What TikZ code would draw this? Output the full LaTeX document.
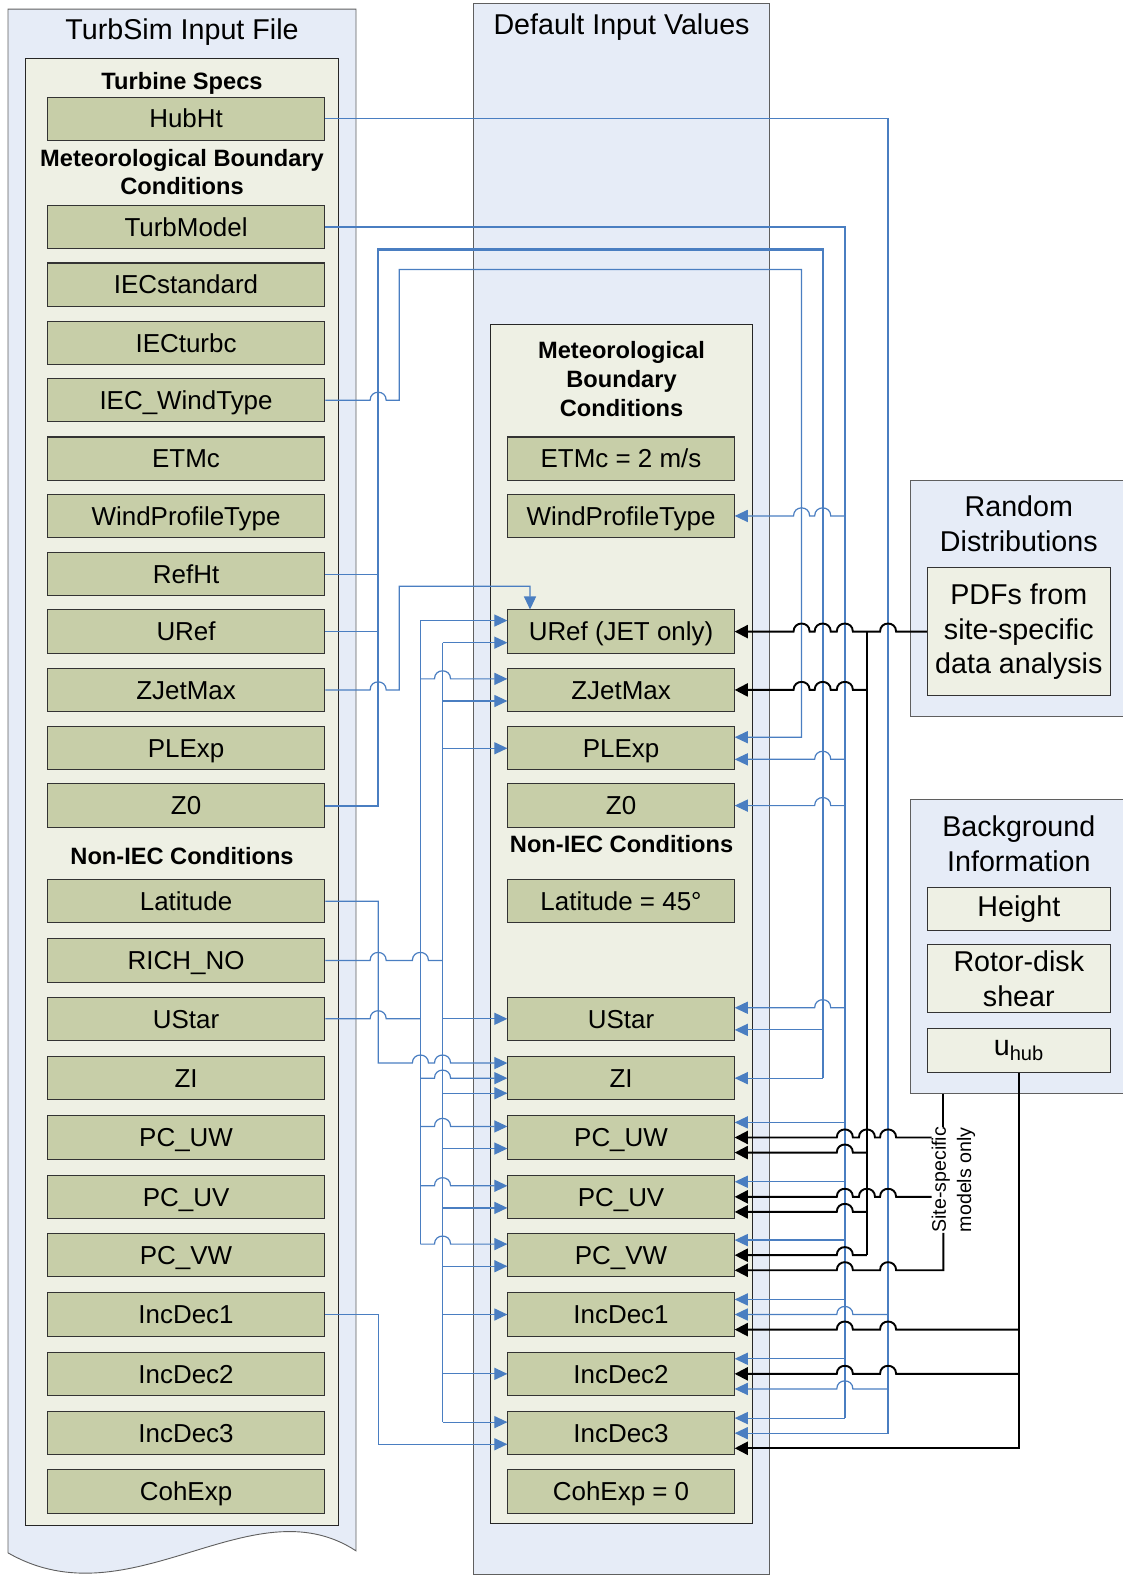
\documentclass[tikz,border=0pt]{standalone}
\usepackage{fontspec}
\setmainfont{Liberation Sans}
\usetikzlibrary{arrows.meta}

\definecolor{panelblue}{RGB}{230,236,247}
\definecolor{innerbeige}{RGB}{238,240,228}
\definecolor{fieldgreen}{RGB}{199,206,168}
\definecolor{linkblue}{RGB}{74,126,193}
\definecolor{edgegray}{RGB}{95,95,95}

\newcommand\lblfont{\fontsize{25.8}{29}\selectfont}
\newcommand\hdrfont{\fontsize{23.5}{28.5}\selectfont\bfseries}
\newcommand\ttlfont{\fontsize{28.5}{34.5}\selectfont}
\newcommand\sitefont{\fontsize{19.5}{25}\selectfont}

% line hop over a vertical line at x=#1 on row y=#2 (l: running left, r: running right)
\newcommand*\hopl[2]{-- (#1+8,#2) .. controls (#1+8,#2-10.7) and (#1-8,#2-10.7) .. (#1-8,#2)}
\newcommand*\hopr[2]{-- (#1-8,#2) .. controls (#1-8,#2-10.7) and (#1+8,#2-10.7) .. (#1+8,#2)}

\begin{document}
\begin{tikzpicture}[
  x=1pt, y=-1pt,
  panel/.style   = {draw=edgegray, fill=panelblue, line width=0.9pt},
  inner/.style   = {draw=black!85, fill=innerbeige, line width=0.9pt},
  field/.style   = {draw=black!80, fill=fieldgreen, line width=1pt,
                    minimum width=276pt, minimum height=43pt, inner sep=0pt, font=\lblfont,
                    text height=18.5pt, text depth=0pt},
  dfield/.style  = {field, minimum width=225pt},
  info/.style    = {draw=black!80, fill=innerbeige, line width=1pt, minimum width=182pt,
                    inner sep=0pt, font=\ttlfont, align=center},
  hdr/.style     = {font=\hdrfont, align=center, inner sep=0pt},
  ttl/.style     = {font=\ttlfont, align=center, inner sep=0pt},
  bl/.style      = {draw=linkblue, line width=1.2pt},
  blthick/.style = {draw=linkblue, line width=2.2pt},
  kl/.style      = {draw=black, line width=1.9pt},
  ba/.style      = {bl, -{Triangle[length=13pt, width=12pt]}},
  ka/.style      = {kl, -{Triangle[length=13pt, width=13pt]}},
]
\useasboundingbox (0,0) rectangle (1116,1568);

% ── Bus x positions ────────────────────────────────────────────────────────
\def\xA{376}   % RefHt / URef / Z0 collector, Latitude, IncDec1
\def\xB{397}   % IEC_WindType and ZJetMax risers
\def\xC{418}   % UStar bus
\def\xD{440}   % RICH_NO bus
\def\xE{797}   % IEC_WindType drop
\def\xF{818}   % RefHt / URef / Z0 drop
\def\xG{840}   % TurbModel drop
\def\xP{862}   % PDF bus
\def\xH{883}   % HubHt drop
\def\xS{938}   % site-specific line

% ── Panels ─────────────────────────────────────────────────────────────────
\path[panel] (8,1544) -- (8,9) -- (354,9) -- (354,1542)
  .. controls (250,1474) and (130,1614) .. (8,1544) -- cycle;
\node[ttl] (inTitle) at (181,32) {TurbSim Input File};
\node[inner, minimum width=312pt, minimum height=1459pt] (inBody) at (181,787.5) {};

\node[panel, minimum width=294pt, minimum height=1562pt] (dflt) at (618,784) {};
\node[ttl] (dfTitle) at (618,27) {Default Input Values};
\node[inner, minimum width=260pt, minimum height=1192pt] (dfBody) at (618,919) {};

\node[panel, minimum width=220pt, minimum height=234pt] (rand) at (1015,595) {};
\node[ttl] (randTitle) at (1013,521) {Random\\Distributions};
\node[info, minimum height=128pt] (pdf) at (1013,628)
  {PDFs from\\site-specific\\data analysis};

\node[panel, minimum width=220pt, minimum height=292pt] (bg) at (1015,941) {};
\node[ttl] (bgTitle) at (1013,839) {Background\\Information};
\node[info, minimum height=43pt] (height) at (1013,903.5) {Height};
\node[info, minimum height=68pt] (shear) at (1013,973) {Rotor-disk\\shear};
\node[info, minimum height=43pt] (uhub) at (1013,1044.5) {u\textsubscript{hub}};

% ── Section headings ───────────────────────────────────────────────────────
\node[hdr] (inTurb) at (181,83) {Turbine Specs};
\node[hdr] (inMet) at (181,171) {Meteorological Boundary\\Conditions};
\node[hdr] (inNon) at (181,851) {Non-IEC Conditions};
\node[hdr] (dfMet) at (618,377) {Meteorological\\Boundary\\Conditions};
\node[hdr] (dfNon) at (618,839) {Non-IEC Conditions};

% ── Input file fields ──────────────────────────────────────────────────────
\foreach \id/\txt/\yy in {hubht/HubHt/118, turbmodel/TurbModel/226,
    iecstd/IECstandard/283, iecturbc/IECturbc/341, iecwind/IEC\_WindType/398,
    etmc/ETMc/456, wpt/WindProfileType/513, refht/RefHt/571, uref/URef/628,
    zjet/ZJetMax/686, plexp/PLExp/744, zo/Z0/801, lat/Latitude/896,
    rich/RICH\_NO/955, ustar/UStar/1013, zi/ZI/1072, pcuw/PC\_UW/1131,
    pcuv/PC\_UV/1190, pcvw/PC\_VW/1248, inca/IncDec1/1307, incb/IncDec2/1366,
    incc/IncDec3/1425, coh/CohExp/1483}
  \node[field] (L-\id) at (185,\yy) {\txt};

% ── Default value fields ───────────────────────────────────────────────────
\foreach \id/\txt/\yy in {etmc/{ETMc = 2 m/s}/456, wpt/WindProfileType/513,
    uref/URef (JET only)/628, zjet/ZJetMax/686, plexp/PLExp/744, zo/Z0/801,
    lat/{Latitude = 45°}/896, ustar/UStar/1013, zi/ZI/1072, pcuw/PC\_UW/1131,
    pcuv/PC\_UV/1190, pcvw/PC\_VW/1248, inca/IncDec1/1307, incb/IncDec2/1366,
    incc/IncDec3/1425, coh/{CohExp = 0}/1483}
  \node[dfield] (D-\id) at (617.5,\yy) {\txt};

% ── Left-hand links ────────────────────────────────────────────────────────
% IEC_WindType -> PLExp
\draw[ba] (L-iecwind.east) \hopr{\xA}{398} -- (\xB,398) -- (\xB,268) -- (\xE,268)
  -- (\xE,733) -- ([yshift=11pt]D-plexp.east);
% RefHt, URef, Z0 -> UStar, ZI
\draw[blthick] (L-zo.east) -| (\xA,248) -| (\xF,1072);
\draw[bl] (L-refht.east) -- (\xA,571);
\draw[bl] (L-uref.east) -- (\xA,628);
\draw[ba] (\xF,1024) -- ([yshift=-11pt]D-ustar.east);
\draw[ba] (\xF,1072) -- (D-zi.east);
% ZJetMax -> URef
\draw[ba] (L-zjet.east) \hopr{\xA}{686} -- (\xB,686) -- (\xB,583) -- (527,583)
  -- ([xshift=-90.5pt]D-uref.north);
% Latitude -> ZI
\draw[ba] (L-lat.east) -| (\xA,1057) \hopr{\xC}{1057} \hopr{\xD}{1057}
  -- ([yshift=15pt]D-zi.west);
% UStar bus
\draw[bl] (\xC,617) -- (\xC,1237);
\draw[bl] (L-ustar.east) \hopr{\xA}{1013} -- (\xC,1013);
\draw[ba] (\xC,617) -- ([yshift=11pt]D-uref.west);
\draw[ba] (\xC,675) \hopr{\xD}{675} -- ([yshift=11pt]D-zjet.west);
\draw[ba] (\xC,1072) \hopr{\xD}{1072} -- (D-zi.west);
\foreach \r/\yy in {pcuw/1120, pcuv/1179, pcvw/1237}
  \draw[ba] (\xC,\yy) \hopr{\xD}{\yy} -- ([yshift=11pt]D-\r.west);
% RICH_NO bus
\draw[bl, line width=1.6pt] (\xD,639) -- (\xD,1414);
\draw[bl] (L-rich.east) \hopr{\xA}{955} \hopr{\xC}{955} -- (\xD,955);
\draw[ba] (\xD,639) -- ([yshift=-11pt]D-uref.west);
\draw[ba] (\xD,697) -- ([yshift=-11pt]D-zjet.west);
\draw[ba] (\xD,744) -- (D-plexp.west);
\draw[ba] (\xD,1013) -- (D-ustar.west);
\draw[ba] (\xD,1087) -- ([yshift=-15pt]D-zi.west);
\foreach \r/\yy in {pcuw/1142, pcuv/1201, pcvw/1259}
  \draw[ba] (\xD,\yy) -- ([yshift=-11pt]D-\r.west);
\draw[ba] (\xD,1307) -- (D-inca.west);
\draw[ba] (\xD,1366) -- (D-incb.west);
\draw[ba] (\xD,1414) -- ([yshift=11pt]D-incc.west);
% IncDec1 -> IncDec3
\draw[ba] (L-inca.east) -| (\xA,1436) -- ([yshift=-11pt]D-incc.west);

% ── Right-hand links ───────────────────────────────────────────────────────
% HubHt drop
\draw[ba] (L-hubht.east) -| (\xH,1425) -- (D-incc.east);
\draw[ba] (\xH,1307) \hopl{\xG}{1307} -- (D-inca.east);
\draw[ba] (\xH,1381) \hopl{\xG}{1381} -- ([yshift=-15pt]D-incb.east);
% TurbModel drop
\draw[blthick] (L-turbmodel.east) -| (\xG,1410);
\draw[ba] (\xG,1410) -- ([yshift=15pt]D-incc.east);
\draw[ba] (\xG,513) \hopl{\xF}{513} \hopl{\xE}{513} -- (D-wpt.east);
\draw[ba] (\xG,755) \hopl{\xF}{755} -- ([yshift=-11pt]D-plexp.east);
\draw[ba] (\xG,801) \hopl{\xF}{801} -- (D-zo.east);
\draw[ba] (\xG,1002) \hopl{\xF}{1002} -- ([yshift=11pt]D-ustar.east);
\foreach \r/\yy in {pcuw/1116, pcuv/1175, pcvw/1233, inca/1292, incb/1351}
  \draw[ba] (\xG,\yy) -- ([yshift=15pt]D-\r.east);

% Random distributions
\draw[ka] (pdf.west) \hopl{\xH}{628} \hopl{\xG}{628} \hopl{\xF}{628} \hopl{\xE}{628}
  -- (D-uref.east);
\draw[kl] (\xP,628) -- (\xP,1248);
\draw[ka] (\xP,686) \hopl{\xG}{686} \hopl{\xF}{686} \hopl{\xE}{686} -- (D-zjet.east);
\draw[ka] (\xP,1146) \hopl{\xG}{1146} -- ([yshift=-15pt]D-pcuw.east);
\draw[ka] (\xP,1205) \hopl{\xG}{1205} -- ([yshift=-15pt]D-pcuv.east);
\draw[ka] (\xP,1248) \hopl{\xG}{1248} -- (D-pcvw.east);

% Site-specific models
\node[font=\sitefont, align=center, inner sep=0pt, rotate=90] (site) at (948,1173)
  {Site-specific\\models only};
\coordinate (sitex) at (\xS,1173);
\draw[kl] (bg.south -| sitex) -- (sitex |- site.east);
\draw[ka] (sitex |- site.west) -- (\xS,1263) \hopl{\xH}{1263} \hopl{\xG}{1263}
  -- ([yshift=-15pt]D-pcvw.east);
\draw[ka] (site.north |- D-pcuw.east) \hopl{\xH}{1131} \hopl{\xP}{1131} \hopl{\xG}{1131}
  -- (D-pcuw.east);
\draw[ka] (site.north |- D-pcuv.east) \hopl{\xH}{1190} \hopl{\xP}{1190} \hopl{\xG}{1190}
  -- (D-pcuv.east);

% Hub-height wind speed
\draw[ka] (uhub.south) -- (uhub.south |- 0,1440) -- ([yshift=-15pt]D-incc.east);
\draw[ka] (uhub.south |- 0,1322) \hopl{\xH}{1322} \hopl{\xG}{1322}
  -- ([yshift=-15pt]D-inca.east);
\draw[ka] (uhub.south |- 0,1366) \hopl{\xH}{1366} \hopl{\xG}{1366} -- (D-incb.east);

\end{tikzpicture}
\end{document}
